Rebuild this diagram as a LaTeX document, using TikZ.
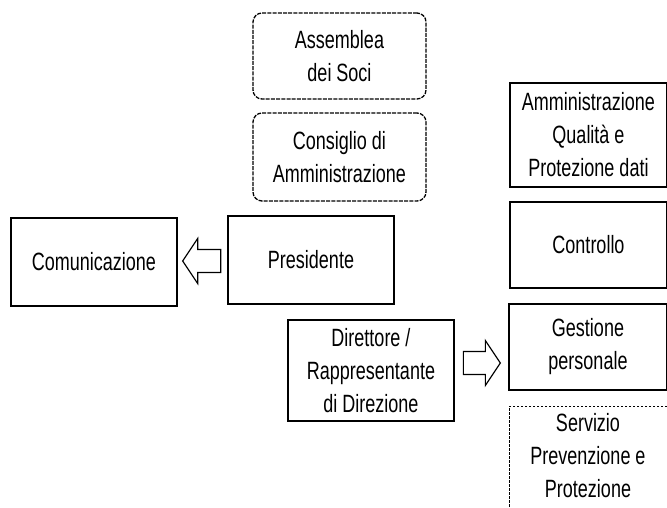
\documentclass[tikz,border=0pt]{standalone}
\usepackage{fontspec}
\setmainfont{Liberation Sans}[FakeStretch=0.72]
\usetikzlibrary{calc}
\tikzset{
    box/.style =    {rectangle,
                    draw=black,
                    fill=white,
                    text=black,
                    line width=1.3pt,
                    align=center,
                    inner sep=0pt,
                    font=\fontsize{25}{33}\selectfont},
    organo/.style = {box,
                    rounded corners=9pt,
                    dash pattern=on 4pt off 1.2pt},
    esterno/.style = {box,
                    line width=1pt,
                    dash pattern=on 2.5pt off 1.5pt},
    blockarrow/.style = {draw=black,
                    fill=white,
                    line width=1.2pt,
                    line join=miter},
    -,
    >=stealth}

\begin{document}
\begin{tikzpicture}[x=1pt,y=-1pt]
            \useasboundingbox (0,0) rectangle (667,507);
            \clip (0,0) rectangle (667,507);
            % vertice
            \node[organo, minimum width=173pt, minimum height=86pt] (ass)  at (339.5,56)  {Assemblea\\dei Soci};
            \node[organo, minimum width=173pt, minimum height=88pt] (cons) at (339.5,157) {Consiglio di\\Amministrazione};
            \node[box, minimum width=166pt, minimum height=88pt]    (pres) at (311,260)   {Presidente};
            \node[box, minimum width=166pt, minimum height=88pt]    (com)  at (94,262)    {Comunicazione};
            \node[box, minimum width=166pt, minimum height=101pt]   (dir)  at (371,370.5) {Direttore /\\Rappresentante\\di Direzione};
            % funzioni di staff
            \node[box, minimum width=157pt, minimum height=104pt]   (amm)  at (588.5,135) {Amministrazione\\Qualità e\\Protezione dati};
            \node[box, minimum width=157pt, minimum height=86pt]    (ctrl) at (588.5,245) {Controllo};
            \node[box, minimum width=158pt, minimum height=86pt]    (gest) at (588,347)   {Gestione\\personale};
            \node[esterno, minimum width=158pt, minimum height=114pt] (serv) at (588,463) {};
            \node[font=\fontsize{25}{33}\selectfont, align=center] (servtxt) at (588,456) {Servizio\\Prevenzione e\\Protezione};
            % frecce
            \coordinate (tipcom) at ($(com.east)+(5,-1)$);
            \coordinate (tipstaff) at ($(gest.west)+(-8,16)$);
            \draw[blockarrow] (tipcom) -- ++(15,-22.5) -- ++(0,11) -- ++(23,0) -- ++(0,23) -- ++(-23,0) -- ++(0,11) -- cycle;
            \draw[blockarrow] (tipstaff) -- ++(-15,-22.5) -- ++(0,11) -- ++(-22,0) -- ++(0,23) -- ++(22,0) -- ++(0,11) -- cycle;
        \end{tikzpicture}
\end{document}
